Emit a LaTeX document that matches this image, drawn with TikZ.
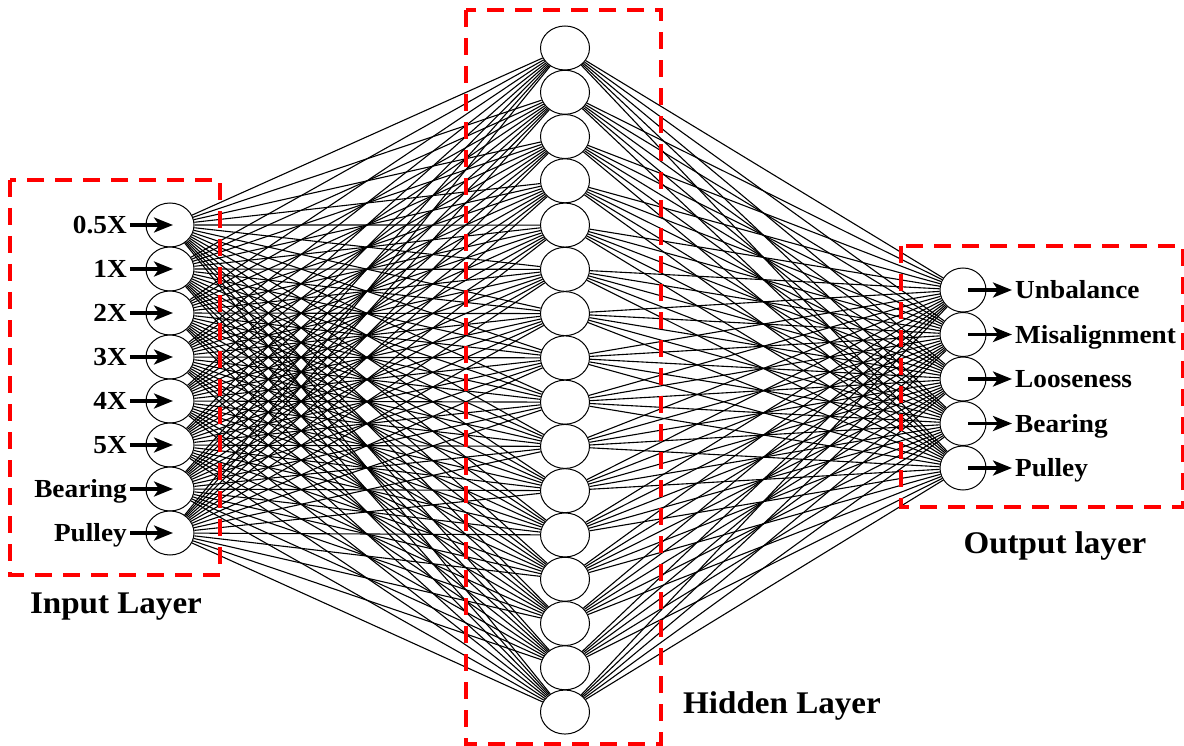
\documentclass[tikz,border=0pt]{standalone}
\usepackage{fontspec}
\setmainfont{Liberation Serif}[FakeStretch=1.05]
\usetikzlibrary{arrows.meta, positioning, shapes.geometric, backgrounds}

\begin{document}
\begin{tikzpicture}[
            x = 1pt, y = 1pt,
            > = {Stealth[length=19pt, width=15pt, inset=5pt]}, % arrow head style
            font = \bfseries\fontsize{26}{30}\selectfont,
            neuron/.style = {ellipse, draw = black, line width = 1pt, fill = white,
                minimum width = 48pt, minimum height = 44pt, inner sep = 0pt},
            link/.style = {line width = 1.1pt}, % weight lines
            feed/.style = {->, line width = 3.2pt},
            tag/.style = {inner sep = 3pt, text height = 17pt, text depth = 0pt},
            layerbox/.style = {draw = red, line width = 4pt, dash pattern = on 17pt off 11pt},
            layername/.style = {font = \bfseries\fontsize{31.5}{36}\selectfont, anchor = base}
        ]

        \useasboundingbox (0,0) rectangle (1184,-746);

        % input layer
        \node[neuron] (in1) at (170,-225) {};
        \foreach \i [remember=\i as \k (initially 1)] in {2,...,8}
            \node[neuron, on grid, below=44pt of in\k] (in\i) {};

        % hidden layer
        \node[neuron, minimum width = 49pt] (hid1) at (565,-48) {};
        \foreach \i [remember=\i as \k (initially 1)] in {2,...,16}
            \node[neuron, minimum width = 49pt, on grid, below=44.27pt of hid\k] (hid\i) {};

        % output layer
        \node[neuron, minimum width = 46pt] (out1) at (963,-290) {};
        \foreach \i [remember=\i as \k (initially 1)] in {2,...,5}
            \node[neuron, minimum width = 46pt, on grid, below=44.5pt of out\k] (out\i) {};

        % weights
        \begin{scope}[on background layer]
            \foreach \i in {1,...,8}
                \foreach \j in {1,...,16}
                    \draw[link] (in\i) -- (hid\j);
            \foreach \j in {1,...,16}
                \foreach \o in {1,...,5}
                    \draw[link] (hid\j) -- (out\o);
        \end{scope}

        % inputs
        \foreach \t [count=\i] in {0.5X, 1X, 2X, 3X, 4X, 5X, Bearing, Pulley} {
            \node[tag, left=40pt of in\i.center] (inlbl\i) {\t};
            \draw[feed] (inlbl\i.east) -- ([xshift=3pt]in\i.center);
        }

        % outputs
        \foreach \t [count=\i] in {Unbalance, Misalignment, Looseness, Bearing, Pulley} {
            \node[tag, right=49pt of out\i.center] (outlbl\i) {\t};
            \draw[feed] ([xshift=5pt]out\i.center) -- (outlbl\i.west);
        }

        % layer boxes
        \draw[layerbox] (10,-180) rectangle (220,-575);
        \draw[layerbox] (466,-10) rectangle (661,-744);
        \draw[layerbox] (901,-246) rectangle (1183,-507);

        \node[layername] (intitle) at (116,-613) {Input Layer};
        \node[layername] (hidtitle) at (782,-713) {Hidden Layer};
        \node[layername] (outtitle) at (1055,-553) {Output layer};

  \end{tikzpicture}
\end{document}
